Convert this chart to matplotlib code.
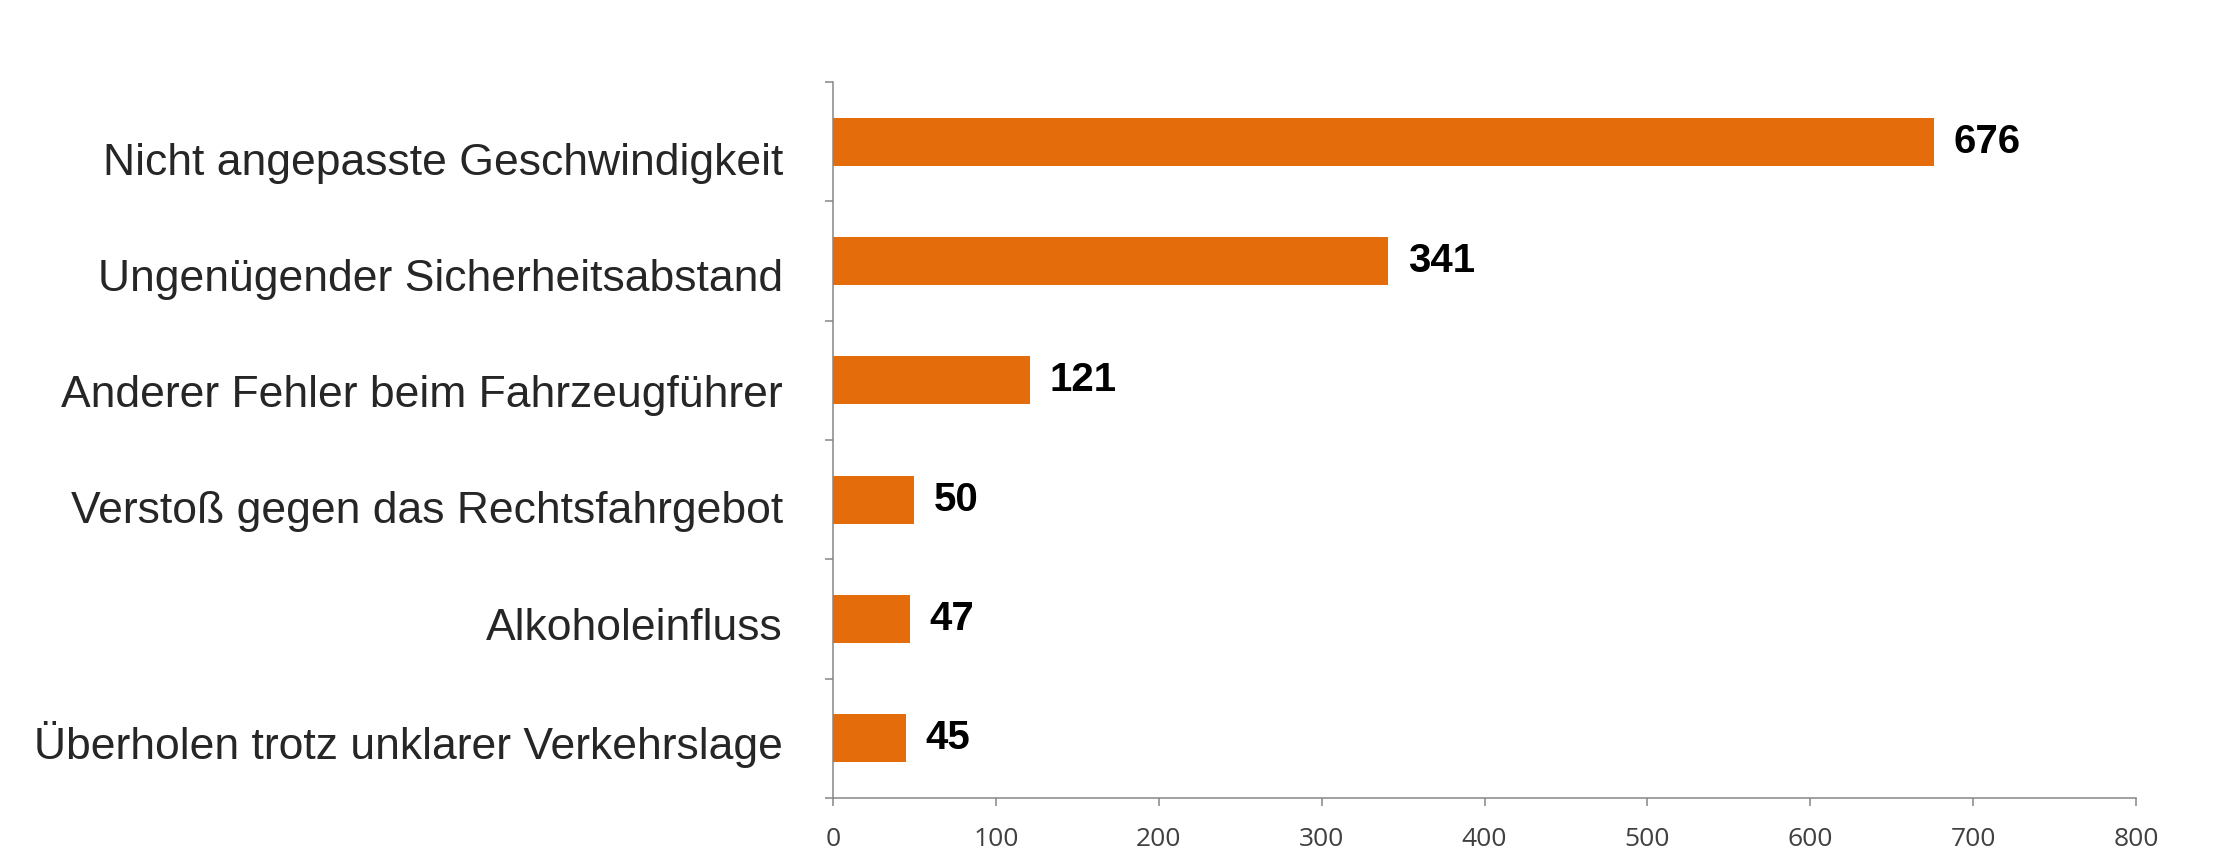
import matplotlib
matplotlib.use("Agg")
import matplotlib.pyplot as plt
import matplotlib.transforms as mtransforms
import numpy as np

categories = ["Nicht angepasste Geschwindigkeit",
              "Ungenügender Sicherheitsabstand",
              "Anderer Fehler beim Fahrzeugführer",
              "Verstoß gegen das Rechtsfahrgebot",
              "Alkoholeinfluss",
              "Überholen trotz unklarer Verkehrslage"]
values = [676, 341, 121, 50, 47, 45]
x_ticks = [0, 100, 200, 300, 400, 500, 600, 700, 800]

bar_color = "#E46C0A"
axis_color = "#868686"

fig = plt.figure(figsize=(22.14, 8.46), dpi=100)
ax = fig.add_axes([833 / 2214, 1 - 798 / 846, (2136 - 833) / 2214, (798 - 82) / 846])

y = np.arange(len(categories))
ax.barh(y, values, height=0.4, color=bar_color)
ax.set_ylim(len(categories) - 0.5, -0.5)
ax.set_xlim(0, 800)

for yi, v in zip(y, values):
    ax.annotate(str(v), (v, yi), xytext=(14, 0), textcoords="offset points",
                va="center", ha="left", fontsize=29, fontweight="bold",
                family="Liberation Sans", color="black")

ax.set_yticks(y)
ax.set_yticklabels(categories, family="Liberation Sans", fontsize=32, color="#262626")
ax.set_yticks(np.arange(len(categories) + 1) - 0.5, minor=True)
ax.tick_params(axis="y", which="major", length=0, pad=36)
ax.tick_params(axis="y", which="minor", length=6, width=1.1, color=axis_color, direction="out")

# labels in the original sit a little lower than the bars, more so at the top
for i, lab in enumerate(ax.get_yticklabels()):
    shift = (12 - 2.2 * i) * 1.412 * 0.72
    lab.set_transform(lab.get_transform() +
                      mtransforms.ScaledTranslation(0, -shift / 72, fig.dpi_scale_trans))

ax.set_xticks(x_ticks)
ax.set_xticklabels([str(t) for t in x_ticks], family="Open Sans", fontsize=19, color="#404040")
ax.tick_params(axis="x", length=6, width=1.1, color=axis_color, pad=15)

for s in ["top", "right"]:
    ax.spines[s].set_visible(False)
for s in ["left", "bottom"]:
    ax.spines[s].set_color(axis_color)
    ax.spines[s].set_linewidth(1.1)

fig.savefig("out.png", dpi=100)
